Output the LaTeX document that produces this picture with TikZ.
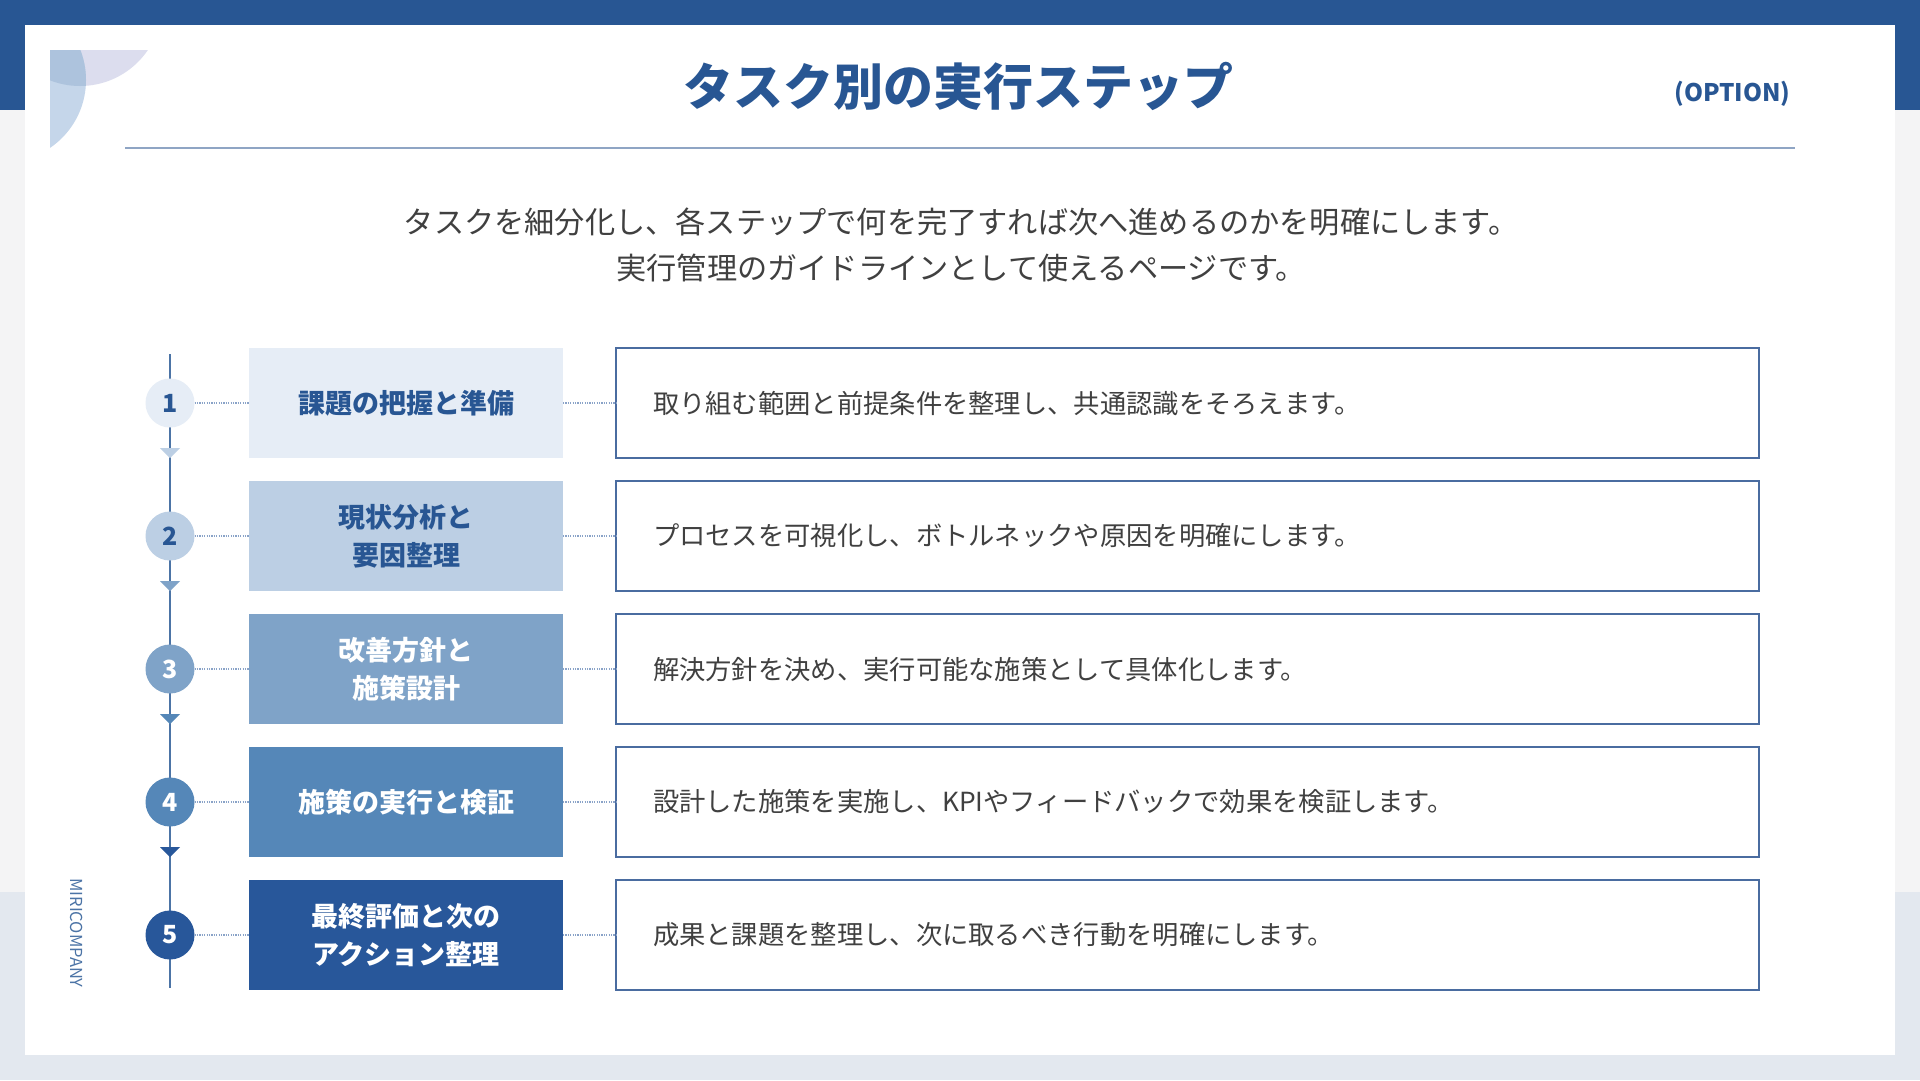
\documentclass[tikz,border=0pt]{standalone}
\usepackage{fontspec}
\setmainfont{Noto Sans CJK JP}
\usetikzlibrary{positioning}

\definecolor{navy}{RGB}{40,86,147}
\definecolor{ink}{HTML}{404040}
\definecolor{s1}{HTML}{E6EDF6}
\definecolor{s2}{HTML}{BCCFE4}
\definecolor{s3}{HTML}{7FA3C8}
\definecolor{s4}{HTML}{5587B8}
\definecolor{s5}{HTML}{28579A}
\definecolor{frame}{HTML}{4A6CA0}
\definecolor{linec}{HTML}{4C74A6}
\definecolor{dotc}{HTML}{8AA3C8}
\definecolor{rulec}{HTML}{8FA5C4}
\definecolor{bggray}{HTML}{F4F4F5}
\definecolor{bgblue}{HTML}{E3E8EF}
\definecolor{lav}{HTML}{DCDDEE}
\definecolor{lblue}{HTML}{C5D6EA}
\definecolor{ovl}{HTML}{ADC3DD}

\begin{document}
\begin{tikzpicture}[x=1pt, y=-1pt, node distance=53pt,
	n/.style={circle, minimum size=49pt, inner sep=0pt, outer sep=0pt, font=\fontsize{25}{25}\selectfont\bfseries},
	b/.style={minimum width=314pt, minimum height=110pt, inner sep=0pt, outer sep=0pt, align=center, font=\fontsize{27}{38}\selectfont\bfseries},
	t/.style={draw=frame, line width=1.8pt, fill=white, minimum width=1143pt, minimum height=110pt, inner xsep=37pt, outer sep=0pt, text width=1069pt, align=left, text=ink, font=\fontsize{26.3}{30}\selectfont},
	d/.style={draw=dotc, line width=1.3pt, dash pattern=on 1.2pt off 1.2pt}]
	\useasboundingbox (0,0) rectangle (1920,1080);

	% page background and card
	\fill[navy] (0,0) rectangle (1920,110);
	\fill[bggray] (0,110) rectangle (1920,892);
	\fill[bgblue] (0,892) rectangle (1920,1080);
	\fill[white] (25,25) rectangle (1895,1055);

	% corner ornament
	\begin{scope}
		\clip (50,50) rectangle (150,150);
		\fill[lav] (80,4) circle (82pt);
		\fill[lblue] (4,80) circle (82pt);
		\clip (80,4) circle (82pt);
		\fill[ovl] (4,80) circle (82pt);
	\end{scope}

	% heading
	\node[font=\fontsize{50}{50}\selectfont\bfseries, text=navy] (title) at (958,86) {タスク別の実行ステップ};
	\node[anchor=east, font=\fontsize{24.2}{24.2}\selectfont\bfseries, text=navy] (opt) at (1794,94) {(OPTION)};
	\coordinate (ruleL) at (125,148);
	\coordinate (ruleR) at (1795,148);
	\draw[rulec, line width=2pt] (ruleL) -- (ruleR);
	\node[align=center, font=\fontsize{30.2}{46}\selectfont, text=ink] (sub) at (961,245) {タスクを細分化し、各ステップで何を完了すれば次へ進めるのかを明確にします。\\実行管理のガイドラインとして使えるページです。};

	% timeline
	\coordinate (top) at (170,354);
	\coordinate (bot) at (170,988);
	\draw[linec, line width=2pt] (top) -- (bot);

	\node[n, fill=s1, text=navy] (N1) at (170,403) {1};
	\node[b, fill=s1, text=navy, right=54.5pt of N1] (L1) {課題の把握と準備};
	\node[t, right=of L1] (R1) {取り組む範囲と前提条件を整理し、共通認識をそろえます。};
	\node[n, fill=s2, text=navy, below=84pt of N1] (N2) {2};
	\node[b, fill=s2, text=navy, right=54.5pt of N2] (L2) {現状分析と\\要因整理};
	\node[t, right=of L2] (R2) {プロセスを可視化し、ボトルネックや原因を明確にします。};
	\node[n, fill=s3, text=white, below=84pt of N2] (N3) {3};
	\node[b, fill=s3, text=white, right=54.5pt of N3] (L3) {改善方針と\\施策設計};
	\node[t, right=of L3] (R3) {解決方針を決め、実行可能な施策として具体化します。};
	\node[n, fill=s4, text=white, below=84pt of N3] (N4) {4};
	\node[b, fill=s4, text=white, right=54.5pt of N4] (L4) {施策の実行と検証};
	\node[t, right=of L4] (R4) {設計した施策を実施し、KPIやフィードバックで効果を検証します。};
	\node[n, fill=s5, text=white, below=84pt of N4] (N5) {5};
	\node[b, fill=s5, text=white, right=54.5pt of N5] (L5) {最終評価と次の\\アクション整理};
	\node[t, right=of L5] (R5) {成果と課題を整理し、次に取るべき行動を明確にします。};

	\draw[d] (N1) -- (L1);
	\draw[d] (L1) -- (R1);
	\draw[d] (N2) -- (L2);
	\draw[d] (L2) -- (R2);
	\draw[d] (N3) -- (L3);
	\draw[d] (L3) -- (R3);
	\draw[d] (N4) -- (L4);
	\draw[d] (L4) -- (R4);
	\draw[d] (N5) -- (L5);
	\draw[d] (L5) -- (R5);

	% arrowheads on the timeline
	\fill[s2] (N1 |- L1.south) -- ++(-10,-10) -- ++(20,0) -- cycle;
	\fill[s3] (N2 |- L2.south) -- ++(-10,-10) -- ++(20,0) -- cycle;
	\fill[s4] (N3 |- L3.south) -- ++(-10,-10) -- ++(20,0) -- cycle;
	\fill[s5] (N4 |- L4.south) -- ++(-10,-10) -- ++(20,0) -- cycle;

	\node[rotate=-90, font=\fontsize{16.5}{16.5}\selectfont, text=linec] (brand) at (76.5,933) {MIRICOMPANY};
\end{tikzpicture}
\end{document}
